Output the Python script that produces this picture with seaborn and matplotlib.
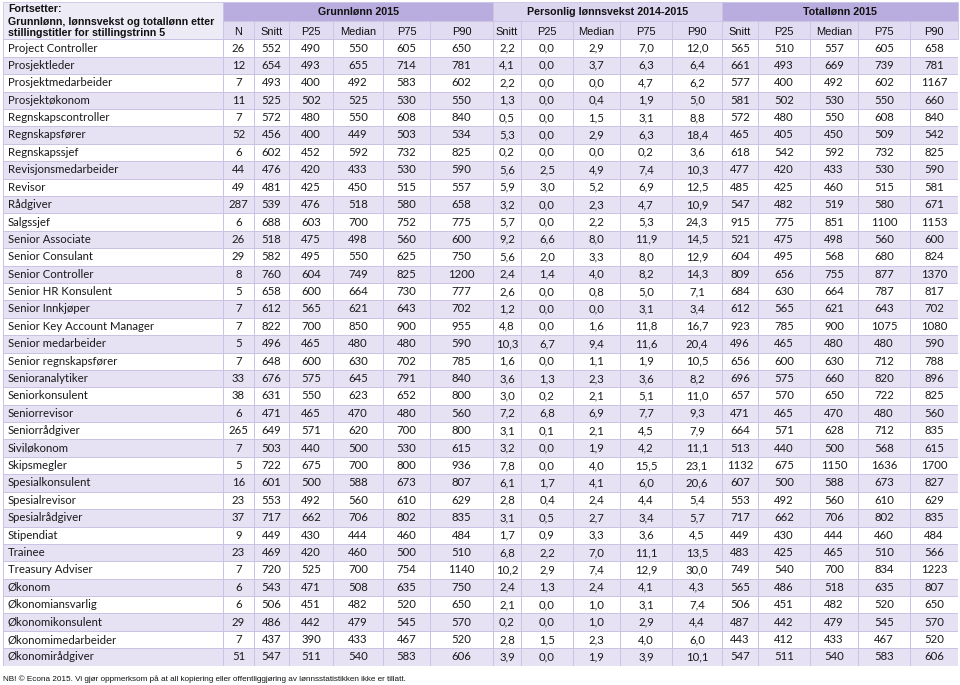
import numpy as np
import seaborn as sns
import matplotlib.pyplot as plt
from matplotlib.colors import ListedColormap
from matplotlib.patches import Rectangle

# Stillingstitler
titler = ["Project Controller", "Prosjektleder", "Prosjektmedarbeider", "Prosjektøkonom",
          "Regnskapscontroller", "Regnskapsfører", "Regnskapssjef", "Revisjonsmedarbeider",
          "Revisor", "Rådgiver", "Salgssjef", "Senior Associate", "Senior Consulant",
          "Senior Controller", "Senior HR Konsulent", "Senior Innkjøper",
          "Senior Key Account Manager", "Senior medarbeider", "Senior regnskapsfører",
          "Senioranalytiker", "Seniorkonsulent", "Seniorrevisor", "Seniorrådgiver",
          "Siviløkonom", "Skipsmegler", "Spesialkonsulent", "Spesialrevisor",
          "Spesialrådgiver", "Stipendiat", "Trainee", "Treasury Adviser", "Økonom",
          "Økonomiansvarlig", "Økonomikonsulent", "Økonomimedarbeider", "Økonomirådgiver"]

n = [26, 12, 7, 11, 7, 52, 6, 44, 49, 287, 6, 26, 29, 8, 5, 7, 7, 5, 7, 33,
     38, 6, 265, 7, 5, 16, 23, 37, 9, 23, 7, 6, 6, 29, 7, 51]

# Grunnlønn 2015
gl_snitt = [552, 654, 493, 525, 572, 456, 602, 476, 481, 539, 688, 518, 582, 760, 658, 612, 822, 496,
            648, 676, 631, 471, 649, 503, 722, 601, 553, 717, 449, 469, 720, 543, 506, 486, 437, 547]
gl_p25 = [490, 493, 400, 502, 480, 400, 452, 420, 425, 476, 603, 475, 495, 604, 600, 565, 700, 465,
          600, 575, 550, 465, 571, 440, 675, 500, 492, 662, 430, 420, 525, 471, 451, 442, 390, 511]
gl_median = [550, 655, 492, 525, 550, 449, 592, 433, 450, 518, 700, 498, 550, 749, 664, 621, 850, 480,
             630, 645, 623, 470, 620, 500, 700, 588, 560, 706, 444, 460, 700, 508, 482, 479, 433, 540]
gl_p75 = [605, 714, 583, 530, 608, 503, 732, 530, 515, 580, 752, 560, 625, 825, 730, 643, 900, 480,
          702, 791, 652, 480, 700, 530, 800, 673, 610, 802, 460, 500, 754, 635, 520, 545, 467, 583]
gl_p90 = [650, 781, 602, 550, 840, 534, 825, 590, 557, 658, 775, 600, 750, 1200, 777, 702, 955, 590,
          785, 840, 800, 560, 800, 615, 936, 807, 629, 835, 484, 510, 1140, 750, 650, 570, 520, 606]

# Personlig lønnsvekst 2014-2015
lv_snitt = [2.2, 4.1, 2.2, 1.3, 0.5, 5.3, 0.2, 5.6, 5.9, 3.2, 5.7, 9.2, 5.6, 2.4, 2.6, 1.2, 4.8, 10.3,
            1.6, 3.6, 3.0, 7.2, 3.1, 3.2, 7.8, 6.1, 2.8, 3.1, 1.7, 6.8, 10.2, 2.4, 2.1, 0.2, 2.8, 3.9]
lv_p25 = [0.0, 0.0, 0.0, 0.0, 0.0, 0.0, 0.0, 2.5, 3.0, 0.0, 0.0, 6.6, 2.0, 1.4, 0.0, 0.0, 0.0, 6.7,
          0.0, 1.3, 0.2, 6.8, 0.1, 0.0, 0.0, 1.7, 0.4, 0.5, 0.9, 2.2, 2.9, 1.3, 0.0, 0.0, 1.5, 0.0]
lv_median = [2.9, 3.7, 0.0, 0.4, 1.5, 2.9, 0.0, 4.9, 5.2, 2.3, 2.2, 8.0, 3.3, 4.0, 0.8, 0.0, 1.6, 9.4,
             1.1, 2.3, 2.1, 6.9, 2.1, 1.9, 4.0, 4.1, 2.4, 2.7, 3.3, 7.0, 7.4, 2.4, 1.0, 1.0, 2.3, 1.9]
lv_p75 = [7.0, 6.3, 4.7, 1.9, 3.1, 6.3, 0.2, 7.4, 6.9, 4.7, 5.3, 11.9, 8.0, 8.2, 5.0, 3.1, 11.8, 11.6,
          1.9, 3.6, 5.1, 7.7, 4.5, 4.2, 15.5, 6.0, 4.4, 3.4, 3.6, 11.1, 12.9, 4.1, 3.1, 2.9, 4.0, 3.9]
lv_p90 = [12.0, 6.4, 6.2, 5.0, 8.8, 18.4, 3.6, 10.3, 12.5, 10.9, 24.3, 14.5, 12.9, 14.3, 7.1, 3.4,
          16.7, 20.4, 10.5, 8.2, 11.0, 9.3, 7.9, 11.1, 23.1, 20.6, 5.4, 5.7, 4.5, 13.5, 30.0, 4.3,
          7.4, 4.4, 6.0, 10.1]

# Totallønn 2015
tl_snitt = [565, 661, 577, 581, 572, 465, 618, 477, 485, 547, 915, 521, 604, 809, 684, 612, 923, 496,
            656, 696, 657, 471, 664, 513, 1132, 607, 553, 717, 449, 483, 749, 565, 506, 487, 443, 547]
tl_p25 = [510, 493, 400, 502, 480, 405, 542, 420, 425, 482, 775, 475, 495, 656, 630, 565, 785, 465,
          600, 575, 570, 465, 571, 440, 675, 500, 492, 662, 430, 425, 540, 486, 451, 442, 412, 511]
tl_median = [557, 669, 492, 530, 550, 450, 592, 433, 460, 519, 851, 498, 568, 755, 664, 621, 900, 480,
             630, 660, 650, 470, 628, 500, 1150, 588, 560, 706, 444, 465, 700, 518, 482, 479, 433, 540]
tl_p75 = [605, 739, 602, 550, 608, 509, 732, 530, 515, 580, 1100, 560, 680, 877, 787, 643, 1075, 480,
          712, 820, 722, 480, 712, 568, 1636, 673, 610, 802, 460, 510, 834, 635, 520, 545, 467, 583]
tl_p90 = [658, 781, 1167, 660, 840, 542, 825, 590, 581, 671, 1153, 600, 824, 1370, 817, 702, 1080, 590,
          788, 896, 825, 560, 835, 615, 1700, 827, 629, 835, 484, 566, 1223, 807, 650, 570, 520, 606]

grupper = ["Grunnlønn 2015", "Personlig lønnsvekst 2014-2015", "Totallønn 2015"]
kolonner = ["N", "Snitt", "P25", "Median", "P75", "P90",
            "Snitt", "P25", "Median", "P75", "P90",
            "Snitt", "P25", "Median", "P75", "P90"]
verdier = [n, gl_snitt, gl_p25, gl_median, gl_p75, gl_p90,
           lv_snitt, lv_p25, lv_median, lv_p75, lv_p90,
           tl_snitt, tl_p25, tl_median, tl_p75, tl_p90]
er_prosent = [False] * 6 + [True] * 5 + [False] * 5

# Farger og oppsett (piksler)
W, H = 960, 685
kanter = [3, 223, 254, 289, 333, 383, 430, 493, 521, 573, 620, 672, 722, 758, 810, 858, 910, 958]
topp = 39.3
rad_h = 17.4
hvit = "#FFFFFF"
lilla_lys = "#E6E2F4"
lilla_mork = "#B9ADE0"
lilla_hode = "#E1DCF2"
lilla_hode2 = "#DBD5EF"
tittel_bg = "#EDEBF6"
linje = "#CAC3E4"
tekst = "#111111"

sns.set_theme(style="white")
plt.rcParams['font.family'] = ['Liberation Sans', 'DejaVu Sans']

fig = plt.figure(figsize=(W / 100, H / 100), dpi=100)

# Bakgrunnsakse i pikselkoordinater for overskrifter og fotnote
bg = fig.add_axes([0, 0, 1, 1])
bg.set_xlim(0, W)
bg.set_ylim(H, 0)
bg.axis("off")

# Tittelcelle
bg.add_patch(Rectangle((kanter[0], 2), kanter[1] - kanter[0], topp - 2,
                       facecolor=tittel_bg, edgecolor=linje, lw=0.6))
for y, linjetekst in [(8.5, "Fortsetter:"),
                      (22, "Grunnlønn, lønnsvekst og totallønn etter"),
                      (33, "stillingstitler for stillingstrinn 5")]:
    bg.text(8, y, linjetekst, fontsize=7.7, fontweight="bold", va="center", color=tekst)

# Gruppeoverskrifter
gruppe_kanter = [(1, 7), (7, 12), (12, 17)]
gruppe_farger = [lilla_mork, lilla_hode2, lilla_mork]
for navn, (a, b), farge in zip(grupper, gruppe_kanter, gruppe_farger):
    bg.add_patch(Rectangle((kanter[a], 2), kanter[b] - kanter[a], 19,
                           facecolor=farge, edgecolor=linje, lw=0.6))
    bg.text((kanter[a] + kanter[b]) / 2, 12, navn, fontsize=7.7, fontweight="bold",
            ha="center", va="center", color=tekst)

# Kolonneoverskrifter
for i, navn in enumerate(kolonner):
    x0, x1 = kanter[i + 1], kanter[i + 2]
    bg.add_patch(Rectangle((x0, 21), x1 - x0, topp - 21,
                           facecolor=lilla_hode, edgecolor=linje, lw=0.6))
    bg.text((x0 + x1) / 2, 32, navn, fontsize=7.9, ha="center", va="center", color=tekst)

bg.text(3, 679, "NB! © Econa 2015. Vi gjør oppmerksom på at all kopiering eller offentliggjøring "
        "av lønnsstatistikken ikke er tillatt.", fontsize=5.9, va="center", color=tekst)

# Stripemønster for radene
striper = np.array([i % 2 for i in range(len(titler))]).reshape(-1, 1)
cmap = ListedColormap([hvit, lilla_lys])
tabell_h = rad_h * len(titler)


def lag_kolonne(x0, x1, tekster):
    ax = fig.add_axes([x0 / W, 1 - (topp + tabell_h) / H, (x1 - x0) / W, tabell_h / H])
    sns.heatmap(striper, ax=ax, cmap=cmap, vmin=0, vmax=1, cbar=False,
                annot=np.array(tekster, dtype=object).reshape(-1, 1), fmt="",
                annot_kws={"fontsize": 8.2, "color": "#1a1a1a", "family": ["Lato", "DejaVu Sans"]},
                linewidths=0.6, linecolor=linje, xticklabels=False, yticklabels=False)
    return ax


# Tittelkolonne, venstrejustert
ax_tit = lag_kolonne(kanter[0], kanter[1], titler)
for t in ax_tit.texts:
    t.set_ha("left")
    t.set_x(5 / (kanter[1] - kanter[0]))

# Tallkolonner
for i, kol in enumerate(verdier):
    if er_prosent[i]:
        tekster = [f"{v:.1f}".replace(".", ",") for v in kol]
    else:
        tekster = [str(v) for v in kol]
    lag_kolonne(kanter[i + 1], kanter[i + 2], tekster)

fig.savefig("out.png", dpi=100)
